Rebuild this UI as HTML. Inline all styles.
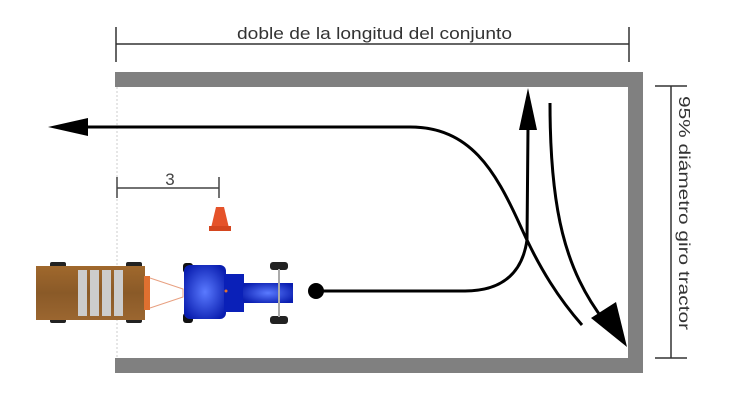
<!DOCTYPE html>
<html><head><meta charset="utf-8"><style>
html,body{margin:0;padding:0;background:#fff;}
svg{display:block;}
</style></head><body>
<svg width="739" height="401" viewBox="0 0 739 401" xmlns="http://www.w3.org/2000/svg">
<defs>
<linearGradient id="wood" x1="0" y1="0" x2="0" y2="1">
<stop offset="0" stop-color="#a0682c"/><stop offset="0.5" stop-color="#8a5a28"/><stop offset="1" stop-color="#9b6630"/>
</linearGradient>
<radialGradient id="blue" cx="0.5" cy="0.5" r="0.6">
<stop offset="0" stop-color="#5a7aff"/><stop offset="1" stop-color="#0a1eb0"/>
</radialGradient>
</defs>
<line x1="116" y1="44" x2="629" y2="44" stroke="#333" stroke-width="1.5"/>
<line x1="116" y1="27" x2="116" y2="62" stroke="#333" stroke-width="1.5"/>
<line x1="629" y1="27" x2="629" y2="62" stroke="#333" stroke-width="1.5"/>
<text x="237" y="39" font-family="Liberation Sans, sans-serif" font-size="17" fill="#333" textLength="275" lengthAdjust="spacingAndGlyphs">doble de la longitud del conjunto</text>
<rect x="115" y="72" width="528" height="15" fill="#808080"/>
<rect x="628" y="72" width="15" height="301" fill="#808080"/>
<rect x="115" y="358" width="528" height="15" fill="#808080"/>
<line x1="117" y1="87" x2="117" y2="358" stroke="#ccc" stroke-width="1" stroke-dasharray="2,2"/>
<line x1="671" y1="86" x2="671" y2="358" stroke="#333" stroke-width="1.5"/>
<line x1="655" y1="86" x2="687" y2="86" stroke="#333" stroke-width="1.5"/>
<line x1="655" y1="358" x2="687" y2="358" stroke="#333" stroke-width="1.5"/>
<text x="0" y="0" transform="translate(679,96) rotate(90)" font-family="Liberation Sans, sans-serif" font-size="16" fill="#333" textLength="234" lengthAdjust="spacingAndGlyphs">95% diámetro giro tractor</text>
<line x1="117" y1="188" x2="219" y2="188" stroke="#444" stroke-width="1.5"/>
<line x1="117" y1="177" x2="117" y2="198" stroke="#444" stroke-width="1.5"/>
<line x1="219" y1="177" x2="219" y2="198" stroke="#444" stroke-width="1.5"/>
<text x="170" y="185" font-family="Liberation Sans, sans-serif" font-size="17" fill="#444" text-anchor="middle">3</text>
<path d="M216 207 L224 207 L229 228 L211 228 Z" fill="#e5532a"/>
<rect x="209" y="226" width="22" height="5" fill="#d4461f"/>
<path d="M85 127 L410 127 C470 127 495 170 520 225 C540 270 560 300 582 325" fill="none" stroke="#000" stroke-width="3"/>
<polygon points="48,127 88,118 88,136" fill="#000"/>
<path d="M322 291 L465 291 C500 291 522 275 527 240 L528 128" fill="none" stroke="#000" stroke-width="3"/>
<polygon points="528,88 519,130 537,130" fill="#000"/>
<circle cx="316" cy="291" r="8" fill="#000"/>
<path d="M550 103 C550 210 565 270 605 322" fill="none" stroke="#000" stroke-width="3"/>
<polygon points="627,347 591,318 616,302" fill="#000"/>
<rect x="50" y="262" width="16" height="6" rx="2" fill="#222"/>
<rect x="50" y="317" width="16" height="6" rx="2" fill="#222"/>
<rect x="126" y="262" width="16" height="6" rx="2" fill="#222"/>
<rect x="126" y="317" width="16" height="6" rx="2" fill="#222"/>
<rect x="36" y="266" width="109" height="54" fill="url(#wood)"/>
<rect x="78" y="270" width="9" height="46" fill="#ccc"/>
<rect x="90" y="270" width="9" height="46" fill="#ccc"/>
<rect x="102" y="270" width="9" height="46" fill="#ccc"/>
<rect x="114" y="270" width="9" height="46" fill="#ccc"/>
<rect x="144" y="276" width="6" height="34" fill="#e07030"/>
<path d="M150 278 L183 289 L183 297 L150 308" fill="none" stroke="#e8a080" stroke-width="1"/>
<rect x="183" y="263" width="10" height="10" rx="3" fill="#111"/>
<rect x="183" y="313" width="10" height="10" rx="3" fill="#111"/>
<rect x="184" y="265" width="42" height="54" rx="6" fill="url(#blue)"/>
<rect x="224" y="274" width="20" height="38" fill="#0a20b8"/>
<rect x="243" y="283" width="50" height="20" fill="url(#blue)"/>
<rect x="270" y="262" width="18" height="8" rx="3" fill="#222"/>
<rect x="270" y="316" width="18" height="8" rx="3" fill="#222"/>
<line x1="279" y1="269" x2="279" y2="317" stroke="#aaa" stroke-width="2"/>
<circle cx="226" cy="291" r="1.5" fill="#e07030"/>
</svg>
</body></html>
